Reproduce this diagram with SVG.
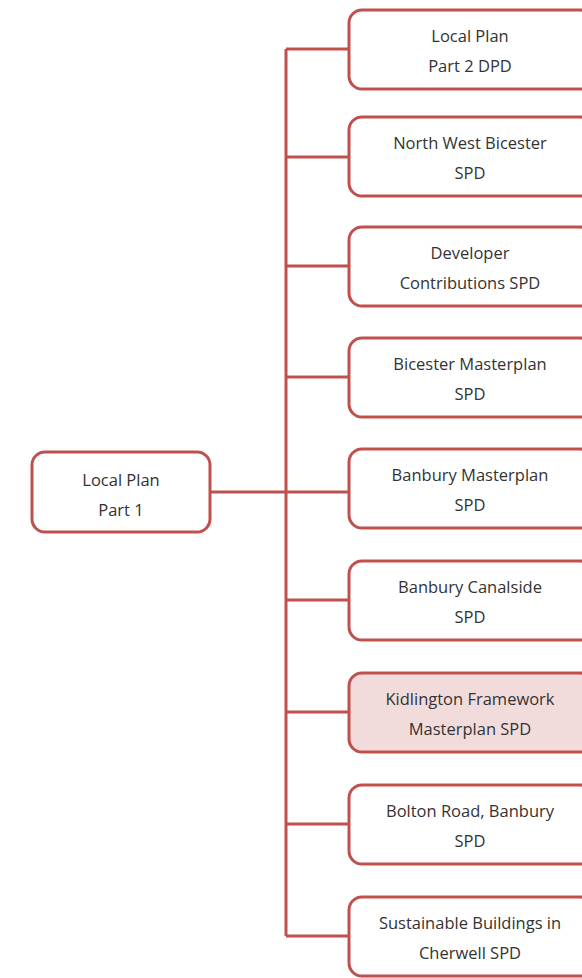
<svg xmlns="http://www.w3.org/2000/svg" width="582" height="978" viewBox="0 0 582 978">
<style>
.box{fill:#fff;stroke:#c0504d;stroke-width:3}
.hl{fill:#f2dcdb}
.ln{fill:none;stroke:#c0504d;stroke-width:3}
text{font-family:"Open Sans","Liberation Sans",sans-serif;font-size:16.5px;fill:#333;text-anchor:middle}
</style>
<rect width="582" height="978" fill="#fff"/>
<g id="connectors">
<path class="ln" d="M286 49V936M210 492H349M286 49H349M286 157H349M286 266H349M286 377H349M286 600H349M286 712H349M286 824H349M286 936H349"/>
</g>
<g id="n0"><rect class="box" x="32" y="452" width="178" height="80" rx="13"/><text x="121" y="486">Local Plan</text><text x="121" y="516">Part 1</text></g>
<g id="n1"><rect class="box" x="349" y="10" width="244" height="79" rx="13"/><text x="470" y="42">Local Plan</text><text x="470" y="72">Part 2 DPD</text></g>
<g id="n2"><rect class="box" x="349" y="117" width="244" height="79" rx="13"/><text x="470" y="149">North West Bicester</text><text x="470" y="179">SPD</text></g>
<g id="n3"><rect class="box" x="349" y="227" width="244" height="79" rx="13"/><text x="470" y="259">Developer</text><text x="470" y="289">Contributions SPD</text></g>
<g id="n4"><rect class="box" x="349" y="338" width="244" height="79" rx="13"/><text x="470" y="370">Bicester Masterplan</text><text x="470" y="400">SPD</text></g>
<g id="n5"><rect class="box" x="349" y="449" width="244" height="79" rx="13"/><text x="470" y="481">Banbury Masterplan</text><text x="470" y="511">SPD</text></g>
<g id="n6"><rect class="box" x="349" y="561" width="244" height="79" rx="13"/><text x="470" y="593">Banbury Canalside</text><text x="470" y="623">SPD</text></g>
<g id="n7"><rect class="box hl" x="349" y="673" width="244" height="79" rx="13"/><text x="470" y="705">Kidlington Framework</text><text x="470" y="735">Masterplan SPD</text></g>
<g id="n8"><rect class="box" x="349" y="785" width="244" height="79" rx="13"/><text x="470" y="817">Bolton Road, Banbury</text><text x="470" y="847">SPD</text></g>
<g id="n9"><rect class="box" x="349" y="897" width="244" height="79" rx="13"/><text x="470" y="929">Sustainable Buildings in</text><text x="470" y="959">Cherwell SPD</text></g>
</svg>
